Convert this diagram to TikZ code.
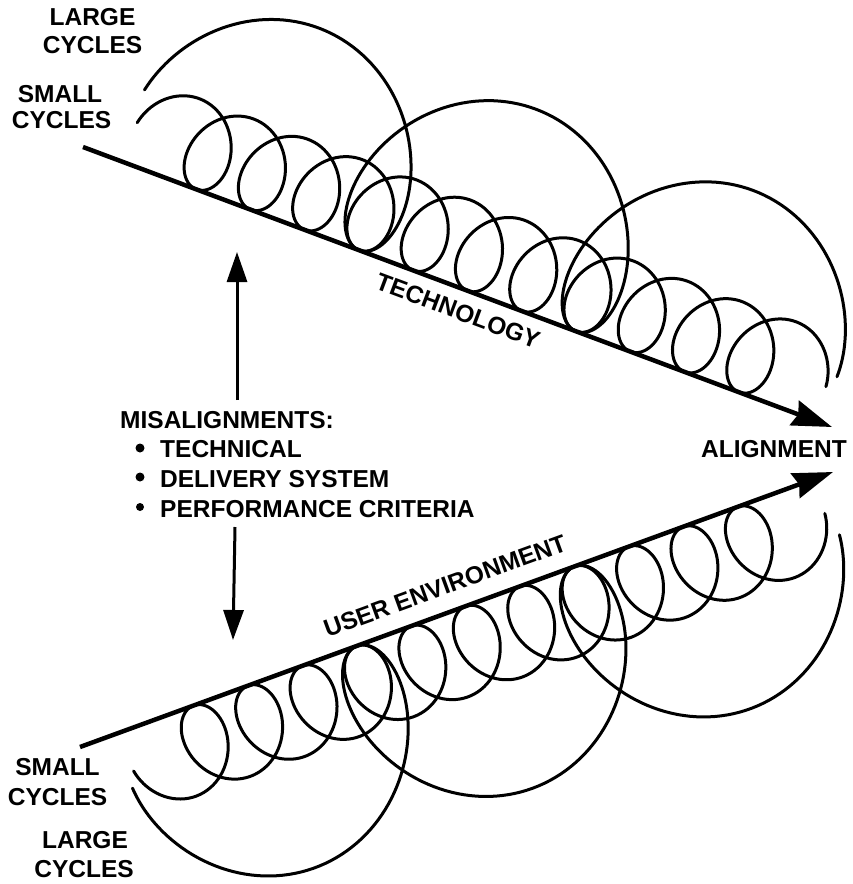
\documentclass[tikz,border=0pt]{standalone}
\usepackage{fontspec}
\setmainfont{Liberation Sans}
\usetikzlibrary{arrows.meta}
\begin{document}
\begin{tikzpicture}[x=1pt,y=-1pt,
  lab/.style={font=\fontsize{24.5}{29}\selectfont\bfseries, inner sep=0pt},
  coil/.style={line width=3pt, line cap=round, line join=round},
  mainline/.style={line width=4.5pt, -{Stealth[length=40pt,width=26pt,inset=4pt]}},
  varrow/.style={line width=3pt, -{Triangle[length=30pt,width=20pt]}},
  declare function={
    su(\t)=92+9.22*\t+35*sin(deg(\t));
    sv(\t)=43*(1+cos(deg(\t)));
    lu(\t)=179+36.9*\t+77*sin(deg(\t));
    lv(\t)=97*(1+cos(deg(\t)));
    tx(\u,\v)=83+\u*0.9367+\v*0.3502;
    ty(\u,\v)=147+\u*0.3502-\v*0.9367;
    bx(\u,\v)=80+\u*0.9393+\v*0.3430;
    by(\u,\v)=747-\u*0.3430+\v*0.9393;
  }]
\useasboundingbox (0,0) rectangle (853,884);

% main lines
\coordinate (tA) at (83,147);
\coordinate (tB) at (832,427);
\coordinate (bA) at (80,747);
\coordinate (bB) at (833,472);
\draw[mainline] (tA) -- (tB);
\draw[mainline] (bA) -- (bB);

% top coils
\draw[coil] plot[domain=-1.6:70.86, samples=800, variable=\t]
  ({tx(su(\t),sv(\t))},{ty(su(\t),sv(\t))});
\draw[coil] plot[domain=-1.8:14.66, samples=300, variable=\t]
  ({tx(lu(\t),lv(\t))},{ty(lu(\t),lv(\t))});

% bottom coils
\draw[coil] plot[domain=-1.62:70.85, samples=800, variable=\t]
  ({bx(su(\t),sv(\t))},{by(su(\t),sv(\t))});
\draw[coil] plot[domain=-2.0:14.52, samples=300, variable=\t]
  ({bx(lu(\t),lv(\t))},{by(lu(\t),lv(\t))});

% labels
\node[lab, anchor=base] (lc1) at (92.5,25) {LARGE};
\node[lab, anchor=base] (lc2) at (92.5,53) {CYCLES};
\node[lab, anchor=base] (sc1) at (60,102) {SMALL};
\node[lab, anchor=base] (sc2) at (61.5,128) {CYCLES};
\node[lab, anchor=base] (bs1) at (57.5,775) {SMALL};
\node[lab, anchor=base] (bs2) at (57.5,805) {CYCLES};
\node[lab, anchor=base] (bl1) at (85,848) {LARGE};
\node[lab, anchor=base] (bl2) at (84,877) {CYCLES};
\node[lab, anchor=base west] (mis) at (120,428) {MISALIGNMENTS:};
\node[lab, anchor=base west] (m1) at (160,457) {TECHNICAL};
\node[lab, anchor=base west] (m2) at (160,487) {DELIVERY SYSTEM};
\node[lab, anchor=base west] (m3) at (160,517) {PERFORMANCE CRITERIA};
\node[lab, anchor=base east] (al) at (847,457) {ALIGNMENT};
\node[lab, rotate=-20.5] (tech) at (458,311) {TECHNOLOGY};
\node[lab, rotate=20] (ue) at (445,586) {USER ENVIRONMENT};

% bullets
\fill (140,448) circle (4.5);
\fill (140,477) circle (4.5);
\fill (140,507) circle (4);

% vertical arrows
\coordinate (uaS) at (237,400);
\coordinate (uaE) at (237,252);
\coordinate (laS) at (235,527);
\coordinate (laE) at (233,640);
\draw[varrow] (uaS) -- (uaE);
\draw[varrow] (laS) -- (laE);
\end{tikzpicture}
\end{document}
